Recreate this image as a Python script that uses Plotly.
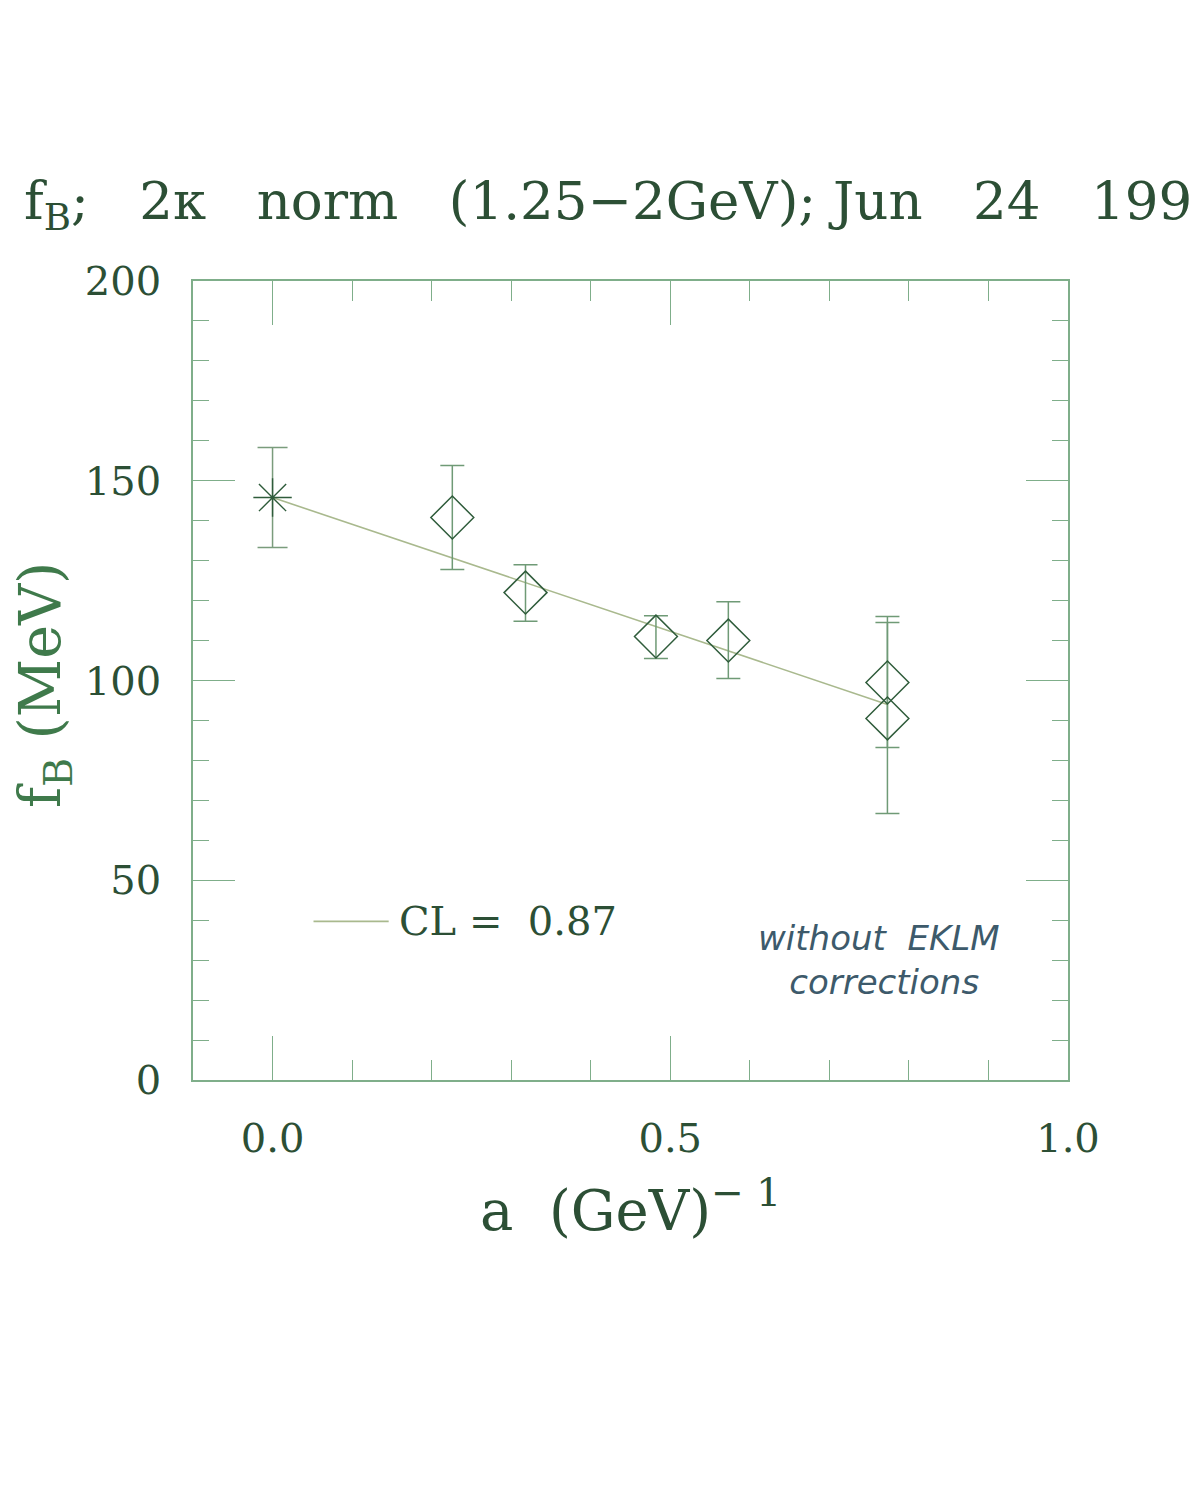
import plotly.graph_objects as go

# ---- data ----
star_x = [0.0]
star_y = [145.8]
star_err = [12.5]

diam_x = [0.226, 0.318, 0.482, 0.573, 0.773, 0.773]
diam_y = [140.8, 122.0, 111.0, 110.0, 99.5, 90.5]
diam_err_plus = [13.0, 7.0, 5.2, 9.7, 15.0, 25.5]
diam_err_minus = [13.0, 7.2, 5.5, 9.5, 16.3, 23.8]

fit_x = [0.0, 0.773]
fit_y = [145.8, 94.0]

legend_label = "CL\u00a0=\u00a0\u00a00.87"
note_text = "without\u00a0\u00a0EKLM<br>\u00a0corrections"

x_ticks = [0.0, 0.5, 1.0]
x_ticktext = ["0.0", "0.5", "1.0"]
y_ticks = [0, 50, 100, 150, 200]
y_ticktext = ["0", "50", "100", "150", "200"]

TXT = "#2c4f35"
AX = "#7fae8a"
MK = "#2f5c3b"
FIT = "#a9b98e"
SERIF = "DejaVu Serif"
OFF = 8  # page body margin

L, T, R, B = 193 - OFF, 281 - OFF, 1068, 1080

S3 = "\u00a0\u00a0\u00a0"
title_text = ("f<sub>B</sub>;" + S3 + "2\u03ba" + S3 + "norm" + S3 + "(1.25\u22122GeV);\u00a0"
              + "Jun" + S3 + "24" + S3 + "199")

fig = go.Figure()

fig.add_trace(go.Scatter(
    x=fit_x, y=fit_y, mode="lines",
    line=dict(color=FIT, width=1.6), showlegend=False, hoverinfo="skip"))

fig.add_trace(go.Scatter(
    x=star_x, y=star_y, mode="markers",
    marker=dict(symbol="asterisk-open", size=32, color=MK, line=dict(color=MK, width=1.4)),
    error_y=dict(type="data", array=star_err, color="#7a9c7c", thickness=1.5, width=15),
    showlegend=False))

fig.add_trace(go.Scatter(
    x=diam_x, y=diam_y, mode="markers",
    marker=dict(symbol="diamond-open", size=33, color=MK, line=dict(color=MK, width=1.5)),
    error_y=dict(type="data", array=diam_err_plus, arrayminus=diam_err_minus,
                 color="#6f9a76", thickness=1.5, width=12),
    showlegend=False))

# legend sample line and label
fig.add_shape(type="line", xref="x", yref="y", x0=0.0515, x1=0.146, y0=39.7, y1=39.7,
              line=dict(color=FIT, width=1.8))
fig.add_annotation(x=0.157, y=39.7, xref="x", yref="y", text=legend_label, showarrow=False,
                   xanchor="left", yanchor="middle", font=dict(family=SERIF, size=40, color=TXT))

# handwritten note
fig.add_annotation(x=0.762, y=30.0, xref="x", yref="y", text=note_text, showarrow=False,
                   xanchor="center", yanchor="middle", align="center",
                   font=dict(family="DejaVu Sans", size=34, color="#3d5a6b", style="italic"))

pw = (R - OFF) - L
ph = (B - OFF) - T
# axis titles as annotations
fig.add_annotation(x=(630 - 193) / pw, y=-(1206 - 1080) / ph, xref="paper", yref="paper",
                   text="a\u00a0\u00a0(GeV)<sup>\u2212\u00a01</sup>", showarrow=False,
                   xanchor="center", yanchor="middle",
                   font=dict(family=SERIF, size=56, color=TXT))
fig.add_annotation(x=-(193 - 44) / pw, y=(1080 - 685) / ph, xref="paper", yref="paper",
                   text="f<sub>B</sub>\u00a0(MeV)", showarrow=False, textangle=-90,
                   xanchor="center", yanchor="middle",
                   font=dict(family=SERIF, size=57, color="#3f7a4b"))

fig.update_layout(
    width=1200, height=1485,
    paper_bgcolor="white", plot_bgcolor="white",
    margin=dict(l=L, r=1200 - (R - OFF), t=T, b=1485 - (B - OFF)),
    title=dict(text=title_text,
               x=(24 - OFF) / 1200, xanchor="left", xref="container",
               y=1 - (200 - OFF) / 1485, yanchor="middle", yref="container",
               font=dict(family=SERIF, size=53, color=TXT)),
    showlegend=False,
)

fig.update_xaxes(
    range=[-0.1, 1.0], tickvals=x_ticks, ticktext=x_ticktext,
    showgrid=False, zeroline=False, showline=True, linecolor=AX, linewidth=1.6,
    mirror="ticks", ticks="inside", ticklen=44, tickwidth=1.4, tickcolor=AX,
    ticklabelstandoff=22,
    minor=dict(dtick=0.1, tick0=0, ticks="inside", ticklen=20, tickwidth=1.2, tickcolor=AX, showgrid=False),
    tickfont=dict(family=SERIF, size=40, color=TXT),
)
fig.update_yaxes(
    range=[0, 200], tickvals=y_ticks, ticktext=y_ticktext,
    showgrid=False, zeroline=False, showline=True, linecolor=AX, linewidth=1.6,
    mirror="ticks", ticks="inside", ticklen=42, tickwidth=1.4, tickcolor=AX,
    ticklabelstandoff=22,
    minor=dict(dtick=10, tick0=0, ticks="inside", ticklen=16, tickwidth=1.2, tickcolor=AX, showgrid=False),
    tickfont=dict(family=SERIF, size=40, color=TXT),
)

fig.write_html("out.html")
